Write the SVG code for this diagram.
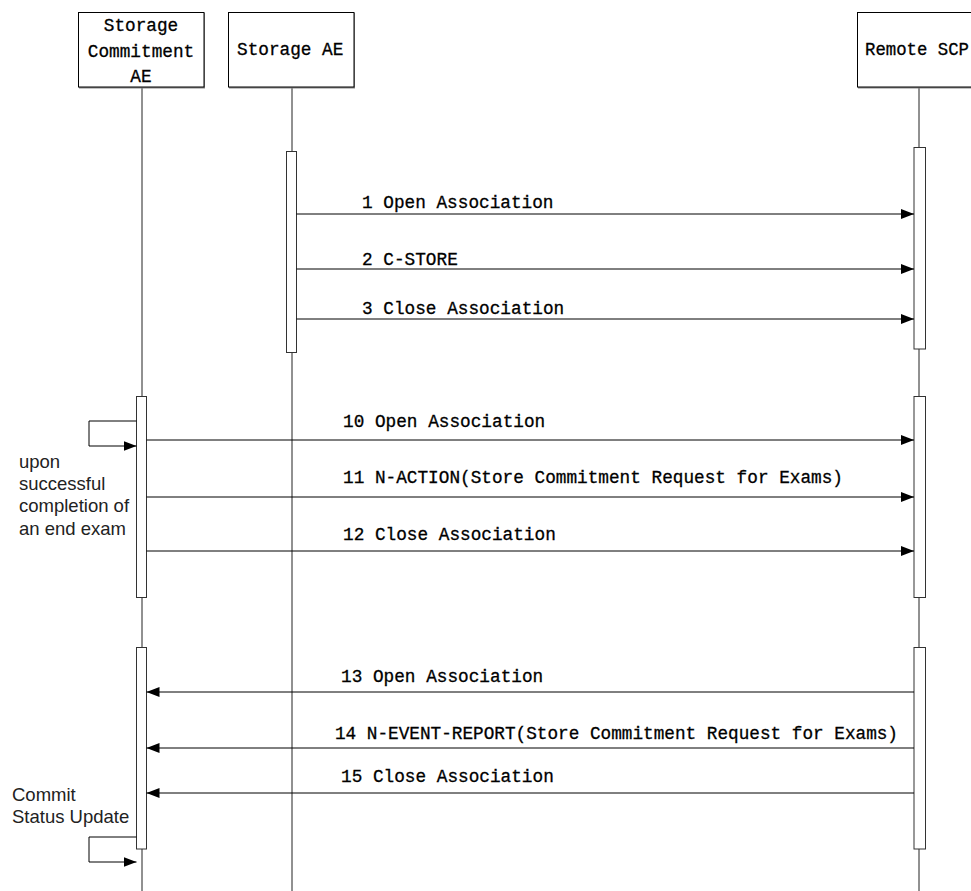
<svg xmlns="http://www.w3.org/2000/svg" width="971" height="891" viewBox="0 0 971 891">
<style>
.box{fill:#fff;stroke:#000;stroke-width:1}
.shadow{fill:#888}
.life{stroke:#222;stroke-width:1;fill:none}
.act{fill:#fff;stroke:#333;stroke-width:1}
.msg{stroke:#000;stroke-width:1;fill:none;marker-end:url(#ah)}
.lbl{font-family:"Liberation Mono","DejaVu Sans Mono",monospace;font-size:18px;fill:#000;stroke:#000;stroke-width:0.3}
.hdr{font-family:"Liberation Mono","DejaVu Sans Mono",monospace;font-size:18px;fill:#000;stroke:#000;stroke-width:0.3}
.note{font-family:"Liberation Sans",Arial,sans-serif;font-size:18.5px;fill:#222}
</style>
<defs>
<marker id="ah" markerWidth="14" markerHeight="10" refX="13" refY="5" orient="auto" markerUnits="userSpaceOnUse">
<path d="M0,0 L13,5 L0,10 Z" fill="#000"/>
</marker>
</defs>
<rect width="971" height="891" fill="#fff"/>
<g id="lifelines">
<line class="life" x1="142" y1="87" x2="142" y2="891"/>
<line class="life" x1="292" y1="87" x2="292" y2="891"/>
<line class="life" x1="919" y1="87" x2="919" y2="891"/>
</g>
<g id="node-storage-commitment-ae">
<rect class="shadow" x="79" y="13" width="126" height="75.5"/>
<rect class="box" x="78.5" y="12.5" width="125.5" height="74.5"/>
<text class="hdr" x="141" y="31" text-anchor="middle" textLength="74.5" lengthAdjust="spacingAndGlyphs">Storage</text>
<text class="hdr" x="141" y="57" text-anchor="middle" textLength="106.4" lengthAdjust="spacingAndGlyphs">Commitment</text>
<text class="hdr" x="141" y="82" text-anchor="middle" textLength="21.3" lengthAdjust="spacingAndGlyphs">AE</text>
</g>
<g id="node-storage-ae">
<rect class="shadow" x="229" y="13" width="126" height="75.5"/>
<rect class="box" x="228.5" y="12.5" width="125.5" height="74.5"/>
<text class="hdr" x="237" y="55" textLength="106.4" lengthAdjust="spacingAndGlyphs">Storage AE</text>
</g>
<g id="node-remote-scp">
<rect class="shadow" x="858" y="13" width="126" height="75.5"/>
<rect class="box" x="857.5" y="12.5" width="125.5" height="74.5"/>
<text class="hdr" x="865" y="55" style="font-size:17.5px" textLength="104" lengthAdjust="spacingAndGlyphs">Remote SCP</text>
</g>
<g id="activations">
<rect class="act" x="286.5" y="151.5" width="10" height="201"/>
<rect class="act" x="914" y="147.5" width="11.5" height="201.5"/>
<rect class="act" x="914" y="396.5" width="11.5" height="201"/>
<rect class="act" x="914" y="647.5" width="11.5" height="201.5"/>
<rect class="act" x="136.5" y="396.5" width="10" height="201"/>
<rect class="act" x="136.5" y="647.5" width="10" height="201.5"/>
</g>
<g id="connectors">
<line class="msg" x1="296.5" y1="214" x2="914" y2="214"/>
<line class="msg" x1="296.5" y1="269" x2="914" y2="269"/>
<line class="msg" x1="296.5" y1="319" x2="914" y2="319"/>
<path class="msg" d="M136.5,421 H89 V446 H136.5"/>
<line class="msg" x1="146.5" y1="440" x2="914" y2="440"/>
<line class="msg" x1="146.5" y1="497" x2="914" y2="497"/>
<line class="msg" x1="146.5" y1="551" x2="914" y2="551"/>
<line class="msg" x1="914" y1="692" x2="146.5" y2="692"/>
<line class="msg" x1="914" y1="748" x2="146.5" y2="748"/>
<line class="msg" x1="914" y1="793" x2="146.5" y2="793"/>
<path class="msg" d="M136.5,837 H89 V862 H136.5"/>
</g>
<g id="labels">
<text class="lbl" x="362" y="208" textLength="191.5" lengthAdjust="spacingAndGlyphs">1 Open Association</text>
<text class="lbl" x="362" y="265" textLength="95.8" lengthAdjust="spacingAndGlyphs">2 C-STORE</text>
<text class="lbl" x="362" y="314" textLength="202.2" lengthAdjust="spacingAndGlyphs">3 Close Association</text>
<text class="lbl" x="343" y="427" textLength="202.2" lengthAdjust="spacingAndGlyphs">10 Open Association</text>
<text class="lbl" x="343" y="483" textLength="500" lengthAdjust="spacingAndGlyphs">11 N-ACTION(Store Commitment Request for Exams)</text>
<text class="lbl" x="343" y="540" textLength="212.8" lengthAdjust="spacingAndGlyphs">12 Close Association</text>
<text class="lbl" x="341" y="682" textLength="202.2" lengthAdjust="spacingAndGlyphs">13 Open Association</text>
<text class="lbl" x="335" y="739" textLength="563" lengthAdjust="spacingAndGlyphs">14 N-EVENT-REPORT(Store Commitment Request for Exams)</text>
<text class="lbl" x="341" y="782" textLength="212.8" lengthAdjust="spacingAndGlyphs">15 Close Association</text>
</g>
<g id="notes">
<text class="note" x="19" y="468">upon</text>
<text class="note" x="19" y="490">successful</text>
<text class="note" x="19" y="512">completion of</text>
<text class="note" x="19" y="535">an end exam</text>
<text class="note" x="12" y="801">Commit</text>
<text class="note" x="12" y="823">Status Update</text>
</g>
</svg>
